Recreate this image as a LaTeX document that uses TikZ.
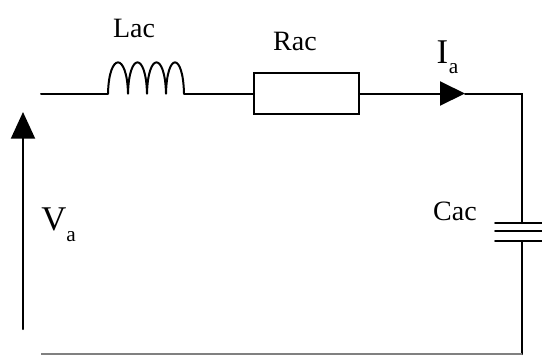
\documentclass[tikz,border=0pt]{standalone}
\usepackage{fontspec}
\setmainfont{Liberation Serif}
\usetikzlibrary{arrows.meta}
\tikzset{
  wire/.style={line width=1.5pt,line cap=round},
  lbl/.style={font=\fontsize{21}{21}\selectfont,inner sep=0pt},
  big/.style={font=\fontsize{26}{26}\selectfont,inner sep=0pt},
  sub/.style={font=\fontsize{16}{16}\selectfont,inner sep=0pt},
  feed/.style={-{Triangle[length=#1,width=18pt]}}
}
\begin{document}
\begin{tikzpicture}[x=0.75pt,y=-0.75pt]
  \useasboundingbox (0,0) rectangle (542,355);
  \draw
    (41,93.5) coordinate (in)
    (108,93.5) coordinate (lin)
    (184,93.5) coordinate (lout)
    (465,93.5) coordinate (tip)
    (522,93.5) coordinate (corner)
    (522,223) coordinate (ctop)
    (522,241) coordinate (cbot)
    (522,354) coordinate (out)
    (41,354) coordinate (ret)
    (23,329) coordinate (vlow)
    (23,112) coordinate (vhigh)
    (495,223) coordinate (p1)
    (542,223) coordinate (q1)
    (495,231) coordinate (p2)
    (542,231) coordinate (q2)
    (495,241) coordinate (p3)
    (542,241) coordinate (q3);
  \node[draw,wire,minimum width=78.75pt,minimum height=30.75pt,outer sep=0pt] (rac) at (306.5,93.5) {};
  \node[lbl] (lac) at (134,28) {Lac};
  \node[lbl] (racl) at (295,41) {Rac};
  \node[lbl] (cacl) at (455,211) {Cac};
  \node[big] (il) at (442.5,52) {I};
  \node[sub] (ia) at (453.5,69) {a};
  \node[big] (vl) at (54,219) {V};
  \node[sub] (va) at (71,237) {a};
  \begin{scope}[wire]
    \draw (in) -- (lin);
    \foreach \x/\w in {108/20,128/19,147/19,166/18}
      \draw (\x,93.5) .. controls (\x+1,52) and (\x+\w-1,52) .. (\x+\w,93.5);
    \draw (lout) -- (rac);
    \draw[feed=18.75pt] (rac) -- (tip);
    \draw (tip) -- (corner) -- (ctop);
    \draw (cbot) -- (out);
    \draw[feed=20pt] (vlow) -- (vhigh);
    \draw (p1) -- (q1);
    \draw (p2) -- (q2);
    \draw (p3) -- (q3);
  \end{scope}
  \draw[line width=1.2pt,gray] (ret) -- (out);
\end{tikzpicture}
\end{document}
